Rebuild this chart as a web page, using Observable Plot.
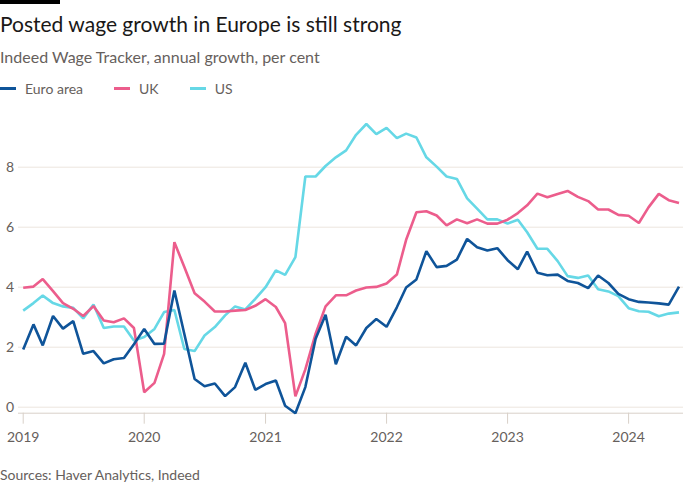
<!DOCTYPE html>
<html>
<head>
<meta charset="utf-8">
<script src="https://cdn.jsdelivr.net/npm/d3@7"></script>
<script src="https://cdn.jsdelivr.net/npm/@observablehq/plot@0.6"></script>
<style>
  html, body { margin: 0; padding: 0; background: #ffffff; }
  body { width: 700px; height: 500px; position: relative; overflow: hidden; font-family: Lato, "Open Sans", sans-serif; }
  #bar { position: absolute; left: 0; top: 0; width: 60px; height: 4px; background: #000; }
  #title { position: absolute; left: 0; top: 10px; font-size: 21px; line-height: 28px; color: #1a1817; white-space: nowrap; }
  #subtitle { position: absolute; left: 0; top: 47px; font-size: 16px; line-height: 20px; color: #66605c; white-space: nowrap; }
  #legend { position: absolute; left: 0; top: 79px; height: 18px; display: flex; align-items: center; gap: 31px; font-size: 14px; color: #66605c; }
  .item { display: flex; align-items: center; gap: 9px; }
  .sw { width: 16px; height: 3px; }
  #chart { position: absolute; left: 0; top: 105px; }
  #source { position: absolute; left: 0; top: 466px; font-size: 14px; line-height: 18px; color: #66605c; white-space: nowrap; }
</style>
</head>
<body>
<div id="bar"></div>
<div id="title">Posted wage growth in Europe is still strong</div>
<div id="subtitle">Indeed Wage Tracker, annual growth, per cent</div>
<div id="legend"></div>
<div id="chart"></div>
<div id="source">Sources: Haver Analytics, Indeed</div>
<script>
// ---- Data (monthly, Jan 2019 – Jun 2024) ----
const startMonth = "2019-01-01";
const seriesNames = ["Euro area", "UK", "US"];
const seriesColors = ["#0f5499", "#ec5d8c", "#66d8e6"];

const euroArea = [
  1.92, 2.76, 2.06, 3.04, 2.62, 2.87, 1.78, 1.87, 1.46, 1.60, 1.64, 2.10,
  2.61, 2.11, 2.12, 3.89, 2.44, 0.94, 0.70, 0.79, 0.37, 0.67, 1.48, 0.58,
  0.77, 0.89, 0.05, -0.20, 0.67, 2.28, 3.08, 1.43, 2.35, 2.06, 2.64, 2.94,
  2.68, 3.33, 3.99, 4.26, 5.20, 4.67, 4.71, 4.92, 5.61, 5.33, 5.22, 5.30,
  4.90, 4.60, 5.19, 4.48, 4.40, 4.42, 4.21, 4.14, 3.97, 4.39, 4.14, 3.78,
  3.60, 3.51, 3.49, 3.46, 3.42, 4.02
];
const uk = [
  3.98, 4.02, 4.27, 3.87, 3.47, 3.28, 3.04, 3.37, 2.89, 2.83, 2.96, 2.64,
  0.50, 0.81, 1.78, 5.50, 4.67, 3.80, 3.52, 3.19, 3.19, 3.22, 3.24, 3.38,
  3.60, 3.34, 2.80, 0.36, 1.26, 2.45, 3.36, 3.73, 3.73, 3.89, 3.99, 4.01,
  4.12, 4.42, 5.58, 6.50, 6.53, 6.39, 6.06, 6.26, 6.13, 6.26, 6.12, 6.12,
  6.25, 6.47, 6.73, 7.12, 7.00, 7.11, 7.21, 7.01, 6.87, 6.59, 6.59, 6.41,
  6.38, 6.14, 6.66, 7.11, 6.90, 6.81
];
const us = [
  3.22, 3.47, 3.72, 3.47, 3.36, 3.31, 2.96, 3.42, 2.64, 2.69, 2.69, 2.22,
  2.34, 2.61, 3.17, 3.24, 1.94, 1.87, 2.39, 2.67, 3.06, 3.36, 3.26, 3.61,
  4.00, 4.56, 4.41, 5.00, 7.69, 7.69, 8.04, 8.33, 8.56, 9.08, 9.44, 9.10,
  9.31, 8.97, 9.12, 8.99, 8.33, 8.02, 7.69, 7.61, 6.96, 6.62, 6.26, 6.26,
  6.12, 6.25, 5.83, 5.28, 5.28, 4.87, 4.37, 4.31, 4.39, 3.93, 3.86, 3.70,
  3.30, 3.20, 3.18, 3.03, 3.12, 3.16
];
const yTicks = [0, 2, 4, 6, 8];
const xTickYears = ["2019", "2020", "2021", "2022", "2023", "2024"];

// ---- Build table ----
const start = new Date(startMonth + "T00:00:00Z");
const dateAt = i => d3.utcMonth.offset(start, i);
const valuesBySeries = [euroArea, uk, us];
const rows = [];
// draw order: US at bottom, then UK, Euro area on top
[2, 1, 0].forEach(s => {
  valuesBySeries[s].forEach((v, i) => rows.push({ series: seriesNames[s], date: dateAt(i), value: v }));
});
const xTicks = xTickYears.map(y => new Date(y + "-01-01T00:00:00Z"));

// ---- Legend ----
const legend = document.getElementById("legend");
seriesNames.forEach((n, i) => {
  const it = document.createElement("div");
  it.className = "item";
  it.innerHTML = `<span class="sw" style="background:${seriesColors[i]}"></span><span>${n}</span>`;
  legend.appendChild(it);
});

// ---- Chart ----
const T = 105;          // page offset of the svg
const H = 345;
const chart = Plot.plot({
  width: 700,
  height: H,
  marginLeft: 18,
  marginRight: 17,
  marginTop: 0,
  marginBottom: H - (412.7 - T),
  style: { fontFamily: "Lato, 'Open Sans', sans-serif", fontSize: "14px", background: "transparent", color: "#66605c" },
  x: { type: "utc", domain: [start, dateAt(65)], range: [22.7, 678.5] },
  y: { domain: [-0.2, 9.6], range: [412.7 - T, 118.7 - T] },
  color: { domain: seriesNames, range: seriesColors },
  marks: [
    Plot.ruleY(yTicks, { stroke: "#ece5de", strokeWidth: 1 }),
    Plot.axisY(yTicks, { anchor: "left", tickSize: 0, tickPadding: 4.5, fill: "#66605c", fontSize: 14, label: null }),
    Plot.ruleY([-0.2], { stroke: "#d8d0c8", strokeWidth: 1 }),
    Plot.axisX(xTicks, { anchor: "bottom", tickSize: 11, tickPadding: 8, stroke: "#d8d0c8", fill: "#66605c", fontSize: 14, tickFormat: d3.utcFormat("%Y"), label: null }),
    Plot.line(rows, { x: "date", y: "value", z: "series", stroke: "series", strokeWidth: 2.6, strokeLinejoin: "miter", strokeLinecap: "butt" })
  ]
});
document.getElementById("chart").appendChild(chart);
</script>
</body>
</html>
